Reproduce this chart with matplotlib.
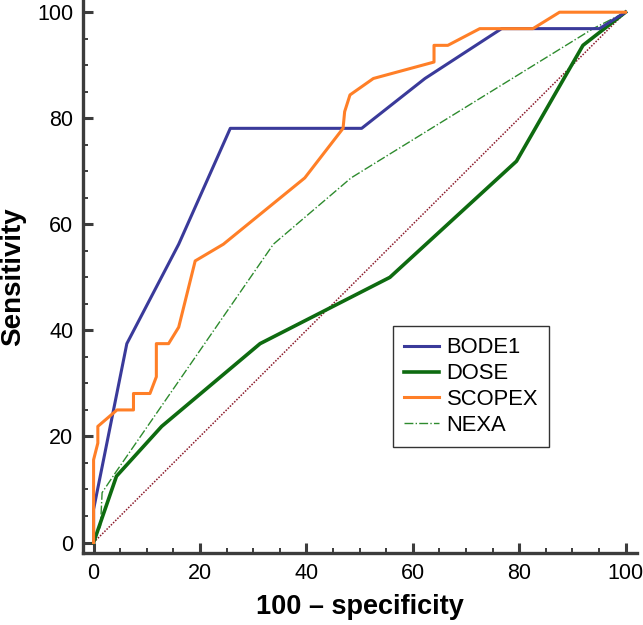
import matplotlib
matplotlib.use("Agg")
import matplotlib.pyplot as plt
from matplotlib.ticker import MultipleLocator

plt.rcParams['font.family'] = ['Liberation Sans', 'DejaVu Sans']

# ROC curves (x = 100 - specificity, y = sensitivity)
bode_x = [0, 0, 6.25, 16.0, 25.7, 50.4, 62.3, 76.7, 95.1, 100]
bode_y = [0, 6.25, 37.5, 56.25, 78.1, 78.1, 87.5, 96.9, 96.9, 100]

dose_x = [0, 4.3, 12.8, 31.3, 55.7, 79.5, 92.0, 100]
dose_y = [0, 12.5, 21.9, 37.5, 50.0, 71.9, 93.75, 100]

scopex_x = [0, 0, 0.8, 0.8, 4.4, 7.5, 7.5, 10.6, 11.8, 11.8, 14.1, 16.0, 19.1,
            24.4, 39.7, 46.9, 47.2, 48.2, 52.6, 64.0, 64.0, 66.6, 72.6, 82.6,
            87.6, 100]
scopex_y = [0, 15.6, 18.75, 21.9, 25.0, 25.0, 28.1, 28.1, 31.25, 37.5, 37.5,
            40.6, 53.1, 56.25, 68.75, 78.1, 81.25, 84.4, 87.5, 90.6, 93.75,
            93.75, 96.9, 96.9, 100, 100]

nexa_x = [0, 1.3, 1.6, 4.2, 33.8, 48.4, 93.9, 100]
nexa_y = [0, 3.1, 9.4, 13.3, 56.25, 68.75, 96.9, 100]

ref_x = [0, 100]
ref_y = [0, 100]

fig = plt.figure(figsize=(6.43, 6.25), dpi=100)
ax = fig.add_axes([0.129, 0.115, 0.862, 0.885])

ax.plot(ref_x, ref_y, color='#8b1a2a', lw=1.1, ls=(0, (1, 1)))
ax.plot(nexa_x, nexa_y, color='#2e8b2e', lw=1.0, ls='-.', label='NEXA', zorder=3)
ax.plot(dose_x, dose_y, color='#0e6b10', lw=2.6, label='DOSE', zorder=4)
ax.plot(bode_x, bode_y, color='#3a3a9a', lw=2.2, label='BODE1', zorder=5)
ax.plot(scopex_x, scopex_y, color='#ff7f27', lw=2.2, label='SCOPEX', zorder=6)

ax.set_xlim(-2, 102.2)
ax.set_ylim(-2, 102.3)

ax.xaxis.set_major_locator(MultipleLocator(20))
ax.xaxis.set_minor_locator(MultipleLocator(5))
ax.yaxis.set_major_locator(MultipleLocator(20))
ax.yaxis.set_minor_locator(MultipleLocator(5))

for s in ['top', 'right']:
    ax.spines[s].set_visible(False)
for s in ['left', 'bottom']:
    ax.spines[s].set_color('#3c3c3c')
    ax.spines[s].set_linewidth(2.4)

ax.tick_params(which='major', direction='in', length=7, width=2.2,
               color='#3c3c3c', labelsize=15.5, pad=7)
ax.tick_params(which='minor', direction='in', length=3.5, width=1.4,
               color='#3c3c3c')

ax.set_xlabel('100 \u2013 specificity', fontsize=19.5, fontweight='bold', labelpad=7)
ax.set_ylabel('Sensitivity', fontsize=20, fontweight='bold', labelpad=8)

h, l = ax.get_legend_handles_labels()
order = ['BODE1', 'DOSE', 'SCOPEX', 'NEXA']
hs = [h[l.index(k)] for k in order]
leg = ax.legend(hs, order, loc='lower left', bbox_to_anchor=(0.559, 0.192),
                borderaxespad=0, fontsize=15.8, frameon=True, fancybox=False,
                edgecolor='black', handlelength=1.6, handletextpad=0.35,
                labelspacing=0.22, borderpad=0.5)
leg.get_frame().set_linewidth(1.0)

fig.savefig('out.png', dpi=100)
